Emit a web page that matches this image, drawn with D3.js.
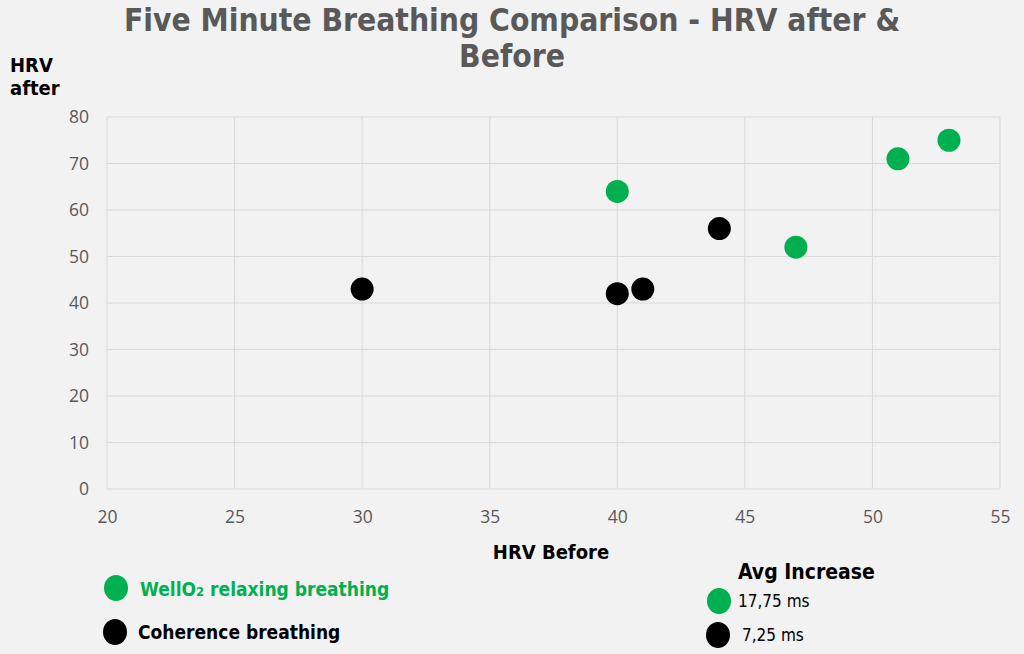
<!DOCTYPE html>
<html>
<head>
<meta charset="utf-8">
<script src="https://cdn.jsdelivr.net/npm/d3@7"></script>
<style>
  body { margin: 0; background: #f2f2f2; }
  .head { font-family: "Liberation Sans Narrow", "DejaVu Sans Condensed", sans-serif; font-weight: bold; }
  .tick text { font-family: "Open Sans", "Noto Sans", sans-serif; font-size: 17.5px; fill: #595959; }
</style>
</head>
<body>
<svg width="1024" height="654"></svg>
<script>
// series: HRV before / HRV after
const wellBefore = [40, 47, 51, 53];
const wellAfter = [64, 52, 71, 75];
const cohBefore = [30, 40, 41, 44];
const cohAfter = [43, 42, 43, 56];
const xTicks = [20, 25, 30, 35, 40, 45, 50, 55];
const yTicks = [0, 10, 20, 30, 40, 50, 60, 70, 80];
const avgLabels = ["17,75 ms", "7,25 ms"];

const green = "#00b050", grid = "#d9d9d9";
const svg = d3.select("svg");

const x = d3.scaleLinear().domain([20, 55]).range([107, 1000]);
const y = d3.scaleLinear().domain([0, 80]).range([489, 117]);

// gridlines
svg.append("g").selectAll("line").data(xTicks).join("line")
  .attr("x1", d => x(d)).attr("x2", d => x(d))
  .attr("y1", y(0)).attr("y2", y(80))
  .attr("stroke", grid);
svg.append("g").selectAll("line").data(yTicks).join("line")
  .attr("x1", x(20)).attr("x2", x(55))
  .attr("y1", d => y(d)).attr("y2", d => y(d))
  .attr("stroke", grid);

// axes (labels only)
const xa = svg.append("g").attr("transform", `translate(0,${y(0)})`)
  .call(d3.axisBottom(x).tickValues(xTicks).tickSize(0).tickPadding(22));
xa.select(".domain").remove();
const ya = svg.append("g").attr("transform", `translate(${x(20)},0)`)
  .call(d3.axisLeft(y).tickValues(yTicks).tickSize(0).tickPadding(18));
ya.select(".domain").remove();

// points
function dots(bx, ay, col) {
  svg.append("g").selectAll("circle").data(bx).join("circle")
    .attr("cx", d => x(d)).attr("cy", (d, i) => y(ay[i]))
    .attr("r", 11.5).attr("fill", col);
}
dots(wellBefore, wellAfter, green);
dots(cohBefore, cohAfter, "#000");

// title
svg.append("text").attr("class", "head").attr("x", 512).attr("y", 31)
  .attr("text-anchor", "middle").attr("font-size", 31.5).attr("fill", "#595959")
  .text("Five Minute Breathing Comparison - HRV after &");
svg.append("text").attr("class", "head").attr("x", 512).attr("y", 67)
  .attr("text-anchor", "middle").attr("font-size", 31.5).attr("fill", "#595959")
  .text("Before");

// axis titles
svg.append("text").attr("class", "head").attr("x", 10).attr("y", 72)
  .attr("font-size", 20).text("HRV");
svg.append("text").attr("class", "head").attr("x", 10).attr("y", 95)
  .attr("font-size", 20).text("after");
svg.append("text").attr("class", "head").attr("x", 551).attr("y", 559)
  .attr("text-anchor", "middle").attr("font-size", 20).text("HRV Before");

// legend
svg.append("ellipse").attr("cx", 116).attr("cy", 588).attr("rx", 12).attr("ry", 13).attr("fill", green);
const lt = svg.append("text").attr("class", "head").attr("x", 140).attr("y", 596)
  .attr("font-size", 19).attr("fill", green);
lt.append("tspan").text("WellO");
lt.append("tspan").attr("font-size", 13).text("2");
lt.append("tspan").text(" relaxing breathing");
svg.append("ellipse").attr("cx", 115).attr("cy", 632).attr("rx", 12).attr("ry", 13).attr("fill", "#000");
svg.append("text").attr("class", "head").attr("x", 138).attr("y", 639)
  .attr("font-size", 19).text("Coherence breathing");

svg.append("text").attr("class", "head").attr("x", 738).attr("y", 579)
  .attr("font-size", 21).text("Avg Increase");
svg.append("ellipse").attr("cx", 719).attr("cy", 601).attr("rx", 12).attr("ry", 13).attr("fill", green);
svg.append("ellipse").attr("cx", 718).attr("cy", 635).attr("rx", 12).attr("ry", 13).attr("fill", "#000");
svg.selectAll(".avg").data(avgLabels).join("text").attr("class", "avg")
  .attr("x", (d, i) => i ? 742 : 738).attr("y", (d, i) => i ? 641 : 607)
  .attr("font-family", "'Liberation Sans Narrow', 'DejaVu Sans Condensed', sans-serif")
  .attr("font-size", 17).text(d => d);
</script>
</body>
</html>
